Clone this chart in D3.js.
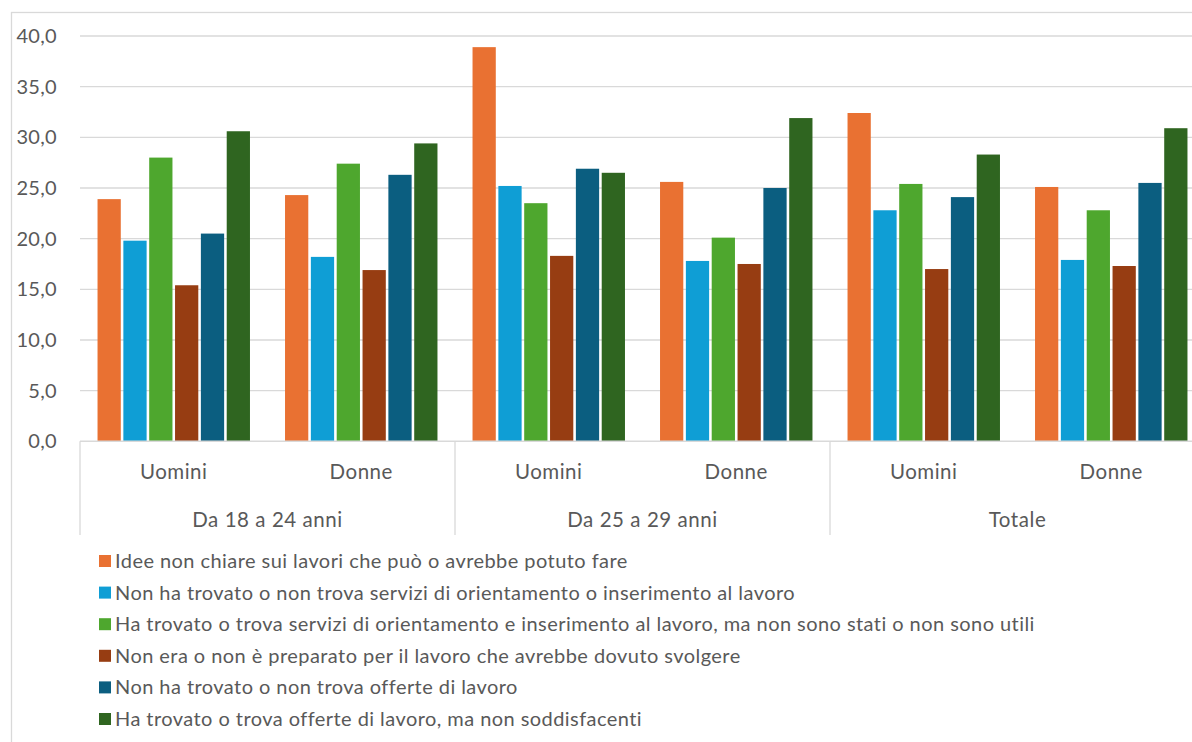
<!DOCTYPE html>
<html>
<head>
<meta charset="utf-8">
<script src="https://cdn.jsdelivr.net/npm/d3@7"></script>
<style>
  html, body { margin: 0; padding: 0; background: #fff; }
  svg { display: block; }
  text { font-family: Lato, "Open Sans", sans-serif; fill: #595959; }
</style>
</head>
<body>
<svg id="chart" width="1192" height="742"></svg>
<script>
// Age groups and the sex split inside each group
const groups = ["Da 18 a 24 anni", "Da 25 a 29 anni", "Totale"];
const sexes = ["Uomini", "Donne"];

// Reasons (series), in legend order
const reasons = [
  "Idee non chiare sui lavori che può o avrebbe potuto fare",
  "Non ha trovato o non trova servizi di orientamento o inserimento al lavoro",
  "Ha trovato o trova servizi di orientamento e inserimento al lavoro, ma non sono stati o non sono utili",
  "Non era o non è preparato per il lavoro che avrebbe dovuto svolgere",
  "Non ha trovato o non trova offerte di lavoro",
  "Ha trovato o trova offerte di lavoro, ma non soddisfacenti"
];
const reasonColors = ["#E97132", "#0F9ED5", "#4EA72E", "#973D12", "#0B5E80", "#2F6520"];

// Percentages per reason, one value per (group, sex) column, left to right
const ideeNonChiare   = [23.9, 24.3, 38.9, 25.6, 32.4, 25.1];
const noServizi       = [19.8, 18.2, 25.2, 17.8, 22.8, 17.9];
const serviziInutili  = [28.0, 27.4, 23.5, 20.1, 25.4, 22.8];
const nonPreparato    = [15.4, 16.9, 18.3, 17.5, 17.0, 17.3];
const noOfferte       = [20.5, 26.3, 26.9, 25.0, 24.1, 25.5];
const offerteNonSodd  = [30.6, 29.4, 26.5, 31.9, 28.3, 30.9];
const seriesValues = [ideeNonChiare, noServizi, serviziInutili, nonPreparato, noOfferte, offerteNonSodd];

const yTicks = [0, 5, 10, 15, 20, 25, 30, 35, 40];

const svg = d3.select("#chart");
const plot = { left: 80, right: 1205, top: 36, bottom: 441.3 };
const grey = "#d9d9d9";

// Outer frame of the chart area
svg.append("rect")
  .attr("x", 11.5).attr("y", 12.5)
  .attr("width", 1300).attr("height", 1000)
  .attr("fill", "none").attr("stroke", grey).attr("stroke-width", 1.3);

const y = d3.scaleLinear().domain([0, 40]).range([plot.bottom, plot.top]);

// Columns: each (group, sex) pair
const columns = [];
groups.forEach(g => sexes.forEach(s => columns.push({ group: g, sex: s, key: g + "|" + s })));

const xCol = d3.scaleBand().domain(columns.map(c => c.key)).range([plot.left, plot.right]);
const xGroup = d3.scaleBand().domain(groups).range([plot.left, plot.right]);
const colW = xCol.bandwidth();
const xSeries = d3.scaleBand().domain(d3.range(reasons.length))
  .range([colW * 0.0935, colW * 0.9065]).paddingInner(0.1).paddingOuter(0);

const it = d3.formatLocale({ decimal: ",", thousands: ".", grouping: [3], currency: ["€", ""] });
const fmt = it.format(".1f");

// Gridlines
svg.append("g")
  .selectAll("line")
  .data(yTicks.filter(t => t > 0))
  .join("line")
  .attr("x1", plot.left).attr("x2", plot.right)
  .attr("y1", d => y(d)).attr("y2", d => y(d))
  .attr("stroke", grey).attr("stroke-width", 1.3);

// Y axis labels
const yAxis = d3.axisLeft(y).tickValues(yTicks).tickFormat(fmt).tickSize(0).tickPadding(23);
const yg = svg.append("g").attr("transform", `translate(${plot.left},0)`).call(yAxis);
yg.select(".domain").remove();
yg.selectAll("text")
  .style("font-size", "20px").style("font-family", "Lato, sans-serif")
  .style("letter-spacing", "0.3px").attr("fill", "#595959");

// Bars
const barsG = svg.append("g");
seriesValues.forEach((vals, si) => {
  barsG.append("g")
    .selectAll("rect")
    .data(vals.map((v, ci) => ({ v, col: columns[ci] })))
    .join("rect")
    .attr("x", d => xCol(d.col.key) + xSeries(si))
    .attr("width", xSeries.bandwidth())
    .attr("y", d => y(d.v))
    .attr("height", d => y(0) - y(d.v))
    .attr("fill", reasonColors[si]);
});

// Category axis baseline
svg.append("line")
  .attr("x1", plot.left).attr("x2", plot.right)
  .attr("y1", plot.bottom).attr("y2", plot.bottom)
  .attr("stroke", grey).attr("stroke-width", 1.6);

// Group separators below the axis
const seps = groups.map(g => xGroup(g)).concat([plot.right]);
svg.append("g")
  .selectAll("line")
  .data(seps)
  .join("line")
  .attr("x1", d => d).attr("x2", d => d)
  .attr("y1", plot.bottom).attr("y2", 535)
  .attr("stroke", grey).attr("stroke-width", 1.3);

// Sex labels
svg.append("g")
  .selectAll("text")
  .data(columns)
  .join("text")
  .attr("x", d => xCol(d.key) + colW / 2)
  .attr("y", 479)
  .attr("text-anchor", "middle")
  .style("font-size", "20.5px")
  .style("letter-spacing", "0.5px")
  .text(d => d.sex);

// Group labels
svg.append("g")
  .selectAll("text")
  .data(groups)
  .join("text")
  .attr("x", d => xGroup(d) + xGroup.bandwidth() / 2)
  .attr("y", 527)
  .attr("text-anchor", "middle")
  .style("font-size", "20.5px")
  .style("letter-spacing", "0.55px")
  .text(d => d);

// Legend
const legend = svg.append("g").attr("transform", "translate(99,0)");
const legendRow = d3.scaleLinear().domain([0, 5]).range([561, 719]);
const items = legend.selectAll("g")
  .data(reasons)
  .join("g")
  .attr("transform", (d, i) => `translate(0,${legendRow(i)})`);
items.append("rect")
  .attr("x", 0).attr("y", -6).attr("width", 12).attr("height", 12)
  .attr("fill", (d, i) => reasonColors[i]);
items.append("text")
  .attr("x", 16).attr("y", 0).attr("dy", "0.35em")
  .style("font-size", "20px")
  .style("letter-spacing", "0.44px")
  .text(d => d);
</script>
</body>
</html>
